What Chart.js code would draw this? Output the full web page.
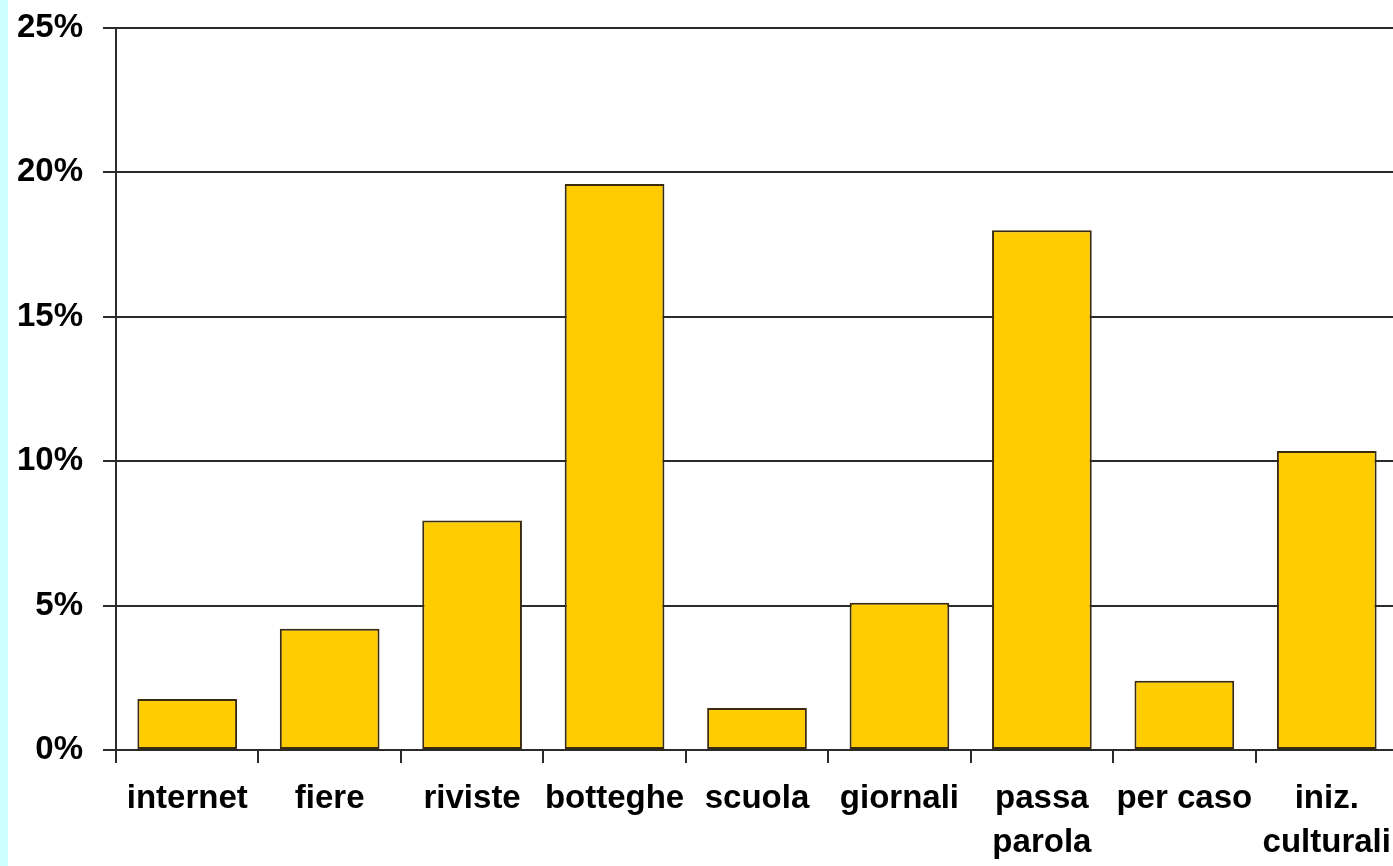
<!DOCTYPE html>
<html>
<head>
<meta charset="utf-8">
<script src="https://cdn.jsdelivr.net/npm/chart.js@4/dist/chart.umd.min.js"></script>
<style>
    html, body { margin: 0; padding: 0; overflow: hidden; }
    body {
        width: 1393px;
        height: 866px;
        background: linear-gradient(to right, #ccffff 0, #ccffff 8px, #ffffff 8px);
    }
    #wrap { position: absolute; left: 0; top: 0; width: 1400px; height: 866px; }
</style>
</head>
<body>
<div id="wrap"><canvas id="chart"></canvas></div>
<script>
// data
let categories = ["internet", "fiere", "riviste", "botteghe", "scuola", "giornali", ["passa", "parola"], "per caso", ["iniz.", "culturali"]];
let values = [1.77, 4.2, 7.95, 19.6, 1.45, 5.1, 18.0, 2.4, 10.35];
let yTicks = [0, 5, 10, 15, 20, 25];
let yTickLabels = ["0%", "5%", "10%", "15%", "20%", "25%"];

let chartEl = document.getElementById("chart");
let fontFamily = "'Liberation Sans', Arial, sans-serif";

let chart = new Chart(chartEl, {
    type: 'bar',
    data: {
        labels: categories,
        datasets: [{
            data: values,
            backgroundColor: '#ffcc00',
            borderColor: '#3a2a10',
            borderWidth: 2,
            borderSkipped: false,
            barPercentage: 0.7,
            categoryPercentage: 1
        }]
    },
    options: {
        responsive: true,
        maintainAspectRatio: false,
        animation: false,
        layout: { padding: { top: 28, right: 2, left: 0, bottom: 0 } },
        plugins: {
            legend: { display: false },
            tooltip: { enabled: false }
        },
        scales: {
            y: {
                min: 0,
                max: 25,
                afterBuildTicks: (axis) => { axis.ticks = yTicks.map(v => ({ value: v })); },
                afterFit: (axis) => {
                    axis.width = 116;
                    axis.paddingTop = 0;
                    axis.paddingBottom = 0;
                },
                ticks: {
                    color: '#000',
                    font: { family: fontFamily, size: 33, weight: "bold", lineHeight: 1.2 },
                    padding: 20,
                    callback: (v) => yTickLabels[yTicks.indexOf(v)]
                },
                grid: { color: '#2a2a2a', lineWidth: 2, tickLength: 13 },
                border: { color: '#2a2a2a', width: 2 }
            },
            x: {
                afterFit: (axis) => {
                    axis.height = 116;
                    axis.paddingLeft = 0;
                    axis.paddingRight = 0;
                },
                ticks: {
                    color: '#000',
                    font: { family: fontFamily, size: 33, weight: "bold", lineHeight: 1.36 },
                    padding: 13,
                    maxRotation: 0,
                    autoSkip: false
                },
                grid: { offset: true, drawOnChartArea: false, color: '#2a2a2a', lineWidth: 2, tickLength: 13 },
                border: { color: '#2a2a2a', width: 2 }
            }
        }
    }
});
</script>
</body>
</html>
